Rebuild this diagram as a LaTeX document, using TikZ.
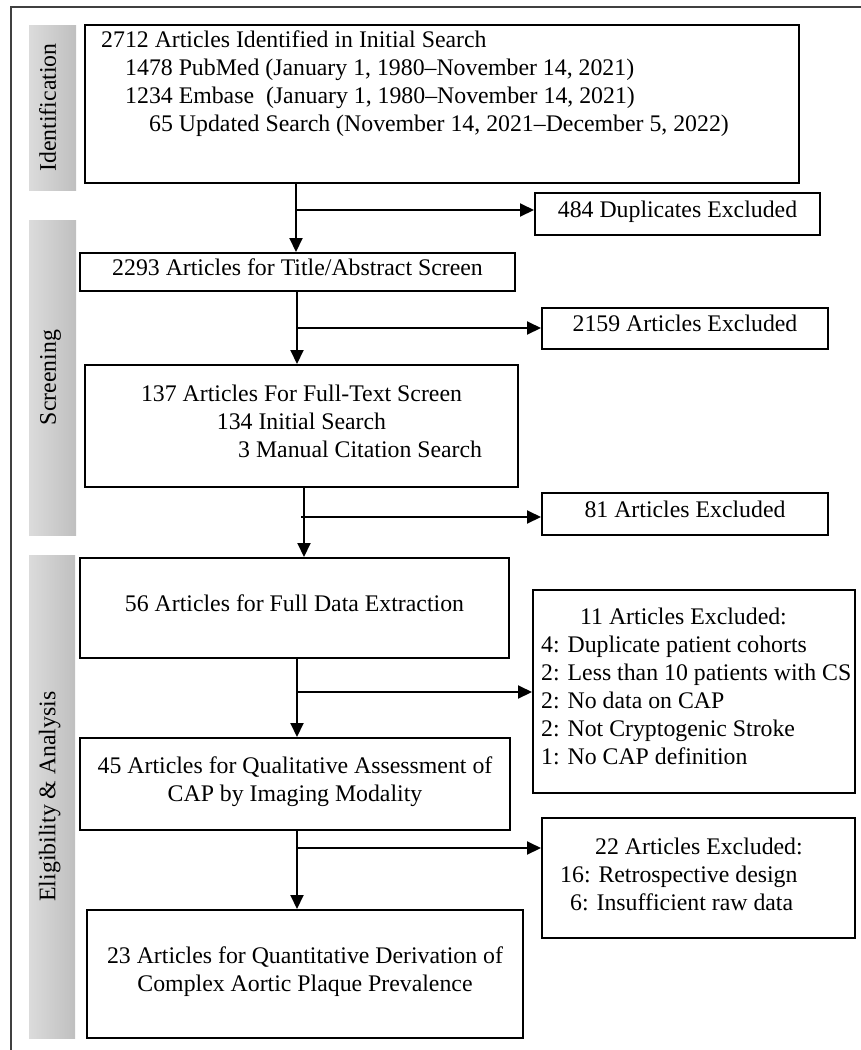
\documentclass[tikz,border=0pt]{standalone}
\usepackage{fontspec}
\setmainfont{Liberation Serif}
\usetikzlibrary{arrows.meta}
\begin{document}
\begin{tikzpicture}[x=1pt,y=-1pt,
  box/.style={draw=black, line width=2pt, inner sep=0pt, fill=white},
  txt/.style={inner sep=0pt, font=\fontsize{23.8}{28}\selectfont, text height=0.66em, text depth=0pt},
  bar/.style={left color=gray!28, right color=gray!50, draw=none},
  arr/.style={line width=2pt, -{Triangle[length=14pt,width=13pt]}},
  frameline/.style={draw=black!75, line width=2pt}]
\useasboundingbox (0,0) rectangle (861,1050);
% frame
\draw[frameline] (11,1050) -- (11,7) -- (861,7);
% side bars
\shade[bar] (29,25) rectangle (76,190);
\shade[bar] (29,220) rectangle (76,535);
\shade[bar] (29,555) rectangle (75,1038);
\node[txt, rotate=90] (lI) at (52.5,107.5) {Identification};
\node[txt, rotate=90] (lS) at (52.5,377.5) {Screening};
\node[txt, rotate=90] (lE) at (52,796.5) {Eligibility \& Analysis};
% boxes
\node[box, minimum width=714, minimum height=158] (b1) at (442,104) {};
\node[box, minimum width=285, minimum height=42] (x1) at (677.5,214) {};
\node[box, minimum width=435, minimum height=38] (b2) at (297.5,272) {};
\node[box, minimum width=286, minimum height=41] (x2) at (685,328.5) {};
\node[box, minimum width=433, minimum height=122] (b3) at (301.5,426) {};
\node[box, minimum width=286, minimum height=42] (x3) at (685,514) {};
\node[box, minimum width=429, minimum height=100] (b4) at (294.5,608) {};
\node[box, minimum width=322, minimum height=203] (x4) at (694,691.5) {};
\node[box, minimum width=430, minimum height=92] (b5) at (295,784) {};
\node[box, minimum width=313, minimum height=120] (x5) at (698.5,878) {};
\node[box, minimum width=436, minimum height=128] (b6) at (305,974) {};
% spine coordinates
\coordinate (s1) at (296,0);
\coordinate (s2) at (297,0);
\coordinate (s3) at (304,0);
\coordinate (s4) at (297,0);
\coordinate (s5) at (297,0);
\coordinate (y1) at (0,210);
\coordinate (y2) at (0,328);
\coordinate (k3) at (301,517);
\coordinate (y4) at (0,692);
\coordinate (y5) at (0,848);
% connectors
\draw[arr] (b1.south -| s1) -- (b2.north -| s1);
\draw[arr] (s1 |- y1) -- (x1.west |- y1);
\draw[arr] (b2.south -| s2) -- (b3.north -| s2);
\draw[arr] (s2 |- y2) -- (x2.west |- y2);
\draw[arr] (b3.south -| s3) -- (b4.north -| s3);
\draw[arr] (k3) -- (x3.west |- k3);
\draw[arr] (b4.south -| s4) -- (b5.north -| s4);
\draw[arr] (s4 |- y4) -- (x4.west |- y4);
\draw[arr] (b5.south -| s5) -- (b6.north -| s5);
\draw[arr] (s5 |- y5) -- (x5.west |- y5);
% texts box 1
\node[txt, anchor=west] (t1a) at (101,44) {2712 Articles Identified in Initial Search};
\node[txt, anchor=west] (t1b) at (125,72) {1478 PubMed (January 1, 1980--November 14, 2021)};
\node[txt, anchor=west] (t1c) at (125,100) {1234 Embase\ \ (January 1, 1980--November 14, 2021)};
\node[txt, anchor=west] (t1d) at (149,128) {65 Updated Search (November 14, 2021--December 5, 2022)};
\node[txt] (tx1) at (x1.center) {484 Duplicates Excluded};
\node[txt] (t2) at (b2.center) {2293 Articles for Title/Abstract Screen};
\node[txt] (tx2) at (x2.center) {2159 Articles Excluded};
\node[txt] (t3a) at (301.5,398) {137 Articles For Full-Text Screen};
\node[txt] (t3b) at (301.5,426) {134 Initial Search};
\node[txt, anchor=west] (t3c) at (238,454) {3 Manual Citation Search};
\node[txt] (tx3) at (x3.center) {81 Articles Excluded};
\node[txt] (t4) at (b4.center) {56 Articles for Full Data Extraction};
\node[txt, anchor=west] (tx4a) at (580,621.5) {11 Articles Excluded:};
\node[txt, anchor=west] (tx4b) at (541,649.5) {4: Duplicate patient cohorts};
\node[txt, anchor=west] (tx4c) at (541,677.5) {2: Less than 10 patients with CS};
\node[txt, anchor=west] (tx4d) at (541,705.5) {2: No data on CAP};
\node[txt, anchor=west] (tx4e) at (541,733.5) {2: Not Cryptogenic Stroke};
\node[txt, anchor=west] (tx4f) at (541,761.5) {1: No CAP definition};
\node[txt] (t5a) at (295,770) {45 Articles for Qualitative Assessment of};
\node[txt] (t5b) at (295,798) {CAP by Imaging Modality};
\node[txt, anchor=west] (tx5a) at (595,851) {22 Articles Excluded:};
\node[txt, anchor=west] (tx5b) at (560,879) {16: Retrospective design};
\node[txt, anchor=west] (tx5c) at (570,907) {6: Insufficient raw data};
\node[txt] (t6a) at (305,960) {23 Articles for Quantitative Derivation of};
\node[txt] (t6b) at (305,988) {Complex Aortic Plaque Prevalence};
\end{tikzpicture}
\end{document}
